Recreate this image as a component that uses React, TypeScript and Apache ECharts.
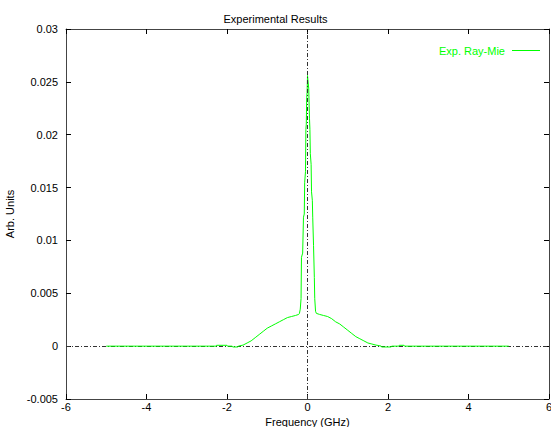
import React, { useEffect, useRef } from "react";
import * as echarts from "echarts";

const title = "Experimental Results";
const seriesName = "Exp. Ray-Mie";
const xTicks = [-6, -4, -2, 0, 2, 4, 6];
const yTicks = [-0.005, 0, 0.005, 0.01, 0.015, 0.02, 0.025, 0.03];

const freq = [
  -5, -3, -2.5, -2.27, -2.26, -2.0, -1.99, -1.87, -1.86, -1.73, -1.72, -1.6, -1.5, -1.4, -1.3,
  -1.2, -1.1, -1.0, -0.9, -0.8, -0.7, -0.6, -0.5, -0.4, -0.3, -0.22, -0.2, -0.18,
  -0.16, -0.15, -0.12, -0.1, -0.08, -0.07, -0.05, -0.04, -0.03, -0.02, -0.01, 0.0,
  0.01, 0.02, 0.03, 0.05, 0.06, 0.07, 0.09, 0.1, 0.12, 0.13, 0.15, 0.17, 0.18,
  0.2, 0.22, 0.3, 0.4, 0.5, 0.6, 0.7, 0.8, 0.9, 1.0, 1.1, 1.2, 1.3, 1.4, 1.5,
  1.6, 1.7, 1.8, 1.83, 1.84, 2.08, 2.09, 2.27, 2.28, 2.4, 2.41, 3, 5,
];
const intensity = [
  0, 0, 0, 0, 0.00008, 0.00008, 0, 0, -0.00008, -0.00008, 0, 0.0001, 0.0003, 0.0005, 0.0008,
  0.0011, 0.0014, 0.0017, 0.0019, 0.0021, 0.0023, 0.0025, 0.0027, 0.0028, 0.0029, 0.003, 0.0031, 0.0035,
  0.0045, 0.0084, 0.0088, 0.0122, 0.0125, 0.0155, 0.0165, 0.0205, 0.021, 0.0235, 0.024, 0.0256,
  0.0252, 0.0248, 0.0244, 0.0215, 0.0205, 0.0182, 0.0172, 0.0146, 0.0138, 0.0122, 0.0095, 0.0065, 0.0045,
  0.0033, 0.0031, 0.003, 0.0029, 0.0028, 0.0026, 0.0023, 0.0021, 0.0018, 0.0015, 0.0012, 0.0009, 0.0007, 0.0005, 0.0003,
  0.0002, 0.0001, 0.00003, 0, -0.00008, -0.00008, 0, 0, 0.00008, 0.00008, 0, 0, 0,
];

const FONT = "'Liberation Sans', Arial, Helvetica, sans-serif";
const frameColor = "#444";

export default function App() {
  const ref = useRef<HTMLDivElement>(null);
  useEffect(() => {
    if (!ref.current) return;
    const chart = echarts.init(ref.current, undefined, { renderer: "svg" });
    const data = freq.map((f, i) => [f, intensity[i]]);
    const yFmt = (v: number) => String(Number(v.toFixed(4)));
    chart.setOption({
      animation: false,
      backgroundColor: "#fff",
      textStyle: { fontFamily: FONT },
      title: {
        text: title,
        left: "center",
        top: 8,
        textStyle: { fontSize: 11, fontWeight: "normal", color: "#000", fontFamily: FONT },
      },
      legend: {
        data: [{ name: seriesName, icon: "rect" }],
        right: 6,
        top: 40,
        align: "right",
        itemWidth: 28,
        itemHeight: 1,
        itemGap: 0,
        itemStyle: { color: "#00ff00", borderWidth: 0 },
        textStyle: { color: "#00ff00", fontSize: 11, fontFamily: FONT, padding: [0, 2, 0, 0] },
        selectedMode: false,
      },
      grid: { left: 66, right: 2, top: 29, bottom: 28, containLabel: false, outerBoundsMode: "none" },
      xAxis: [
        {
          type: "value",
          min: -6,
          max: 6,
          interval: 2,
          name: "Frequency (GHz)",
          nameLocation: "middle",
          nameGap: 11,
          nameTextStyle: { fontSize: 11, lineHeight: 11, color: "#000", fontFamily: FONT },
          axisLine: { show: true, onZero: false, lineStyle: { color: frameColor, width: 1 } },
          axisTick: { show: true, inside: true, length: 5, lineStyle: { color: "#000" } },
          axisLabel: { fontSize: 11, lineHeight: 11, color: "#000", margin: 2, fontFamily: FONT, hideOverlap: false },
          splitLine: { show: false },
        },
        {
          type: "value",
          position: "top",
          min: -6,
          max: 6,
          interval: 2,
          axisLine: { show: true, onZero: false, lineStyle: { color: frameColor, width: 1 } },
          axisTick: { show: true, inside: true, length: 5, lineStyle: { color: "#000" } },
          axisLabel: { show: false },
          splitLine: { show: false },
        },
      ],
      yAxis: [
        {
          type: "value",
          min: -0.005,
          max: 0.03,
          interval: 0.005,
          name: "Arb. Units",
          nameLocation: "middle",
          nameGap: 47,
          nameRotate: 90,
          nameTextStyle: { fontSize: 11, color: "#000", fontFamily: FONT },
          axisLine: { show: true, onZero: false, lineStyle: { color: frameColor, width: 1 } },
          axisTick: { show: true, inside: true, length: 5, lineStyle: { color: "#000" } },
          axisLabel: { fontSize: 11, color: "#000", margin: 8, formatter: yFmt, fontFamily: FONT },
          splitLine: { show: false },
        },
        {
          type: "value",
          position: "right",
          min: -0.005,
          max: 0.03,
          interval: 0.005,
          axisLine: { show: true, onZero: false, lineStyle: { color: frameColor, width: 1 } },
          axisTick: { show: true, inside: true, length: 5, lineStyle: { color: "#000" } },
          axisLabel: { show: false },
          splitLine: { show: false },
        },
      ],
      series: [
        {
          name: "zero-h",
          type: "line",
          data: [],
          z: 1,
          silent: true,
          markLine: {
            silent: true,
            symbol: "none",
            z: 1,
            label: { show: false },
            lineStyle: { color: "#333", type: [4, 2, 1, 2], width: 1 },
            data: [{ yAxis: 0 }],
          },
        },
        {
          name: seriesName,
          type: "line",
          data,
          z: 2,
          symbol: "none",
          showSymbol: false,
          lineStyle: { color: "#00ff00", width: 1 },
          itemStyle: { color: "#00ff00" },
        },
        {
          name: "zero-v",
          type: "line",
          data: [],
          z: 3,
          silent: true,
          markLine: {
            silent: true,
            symbol: "none",
            z: 3,
            label: { show: false },
            lineStyle: { color: "#333", type: [4, 2, 1, 2], width: 1 },
            data: [{ xAxis: 0 }],
          },
        },
      ],
    });
    return () => chart.dispose();
  }, []);
  return <div ref={ref} style={{ width: 551, height: 427, position: "absolute", left: 0, top: 0 }} />;
}
